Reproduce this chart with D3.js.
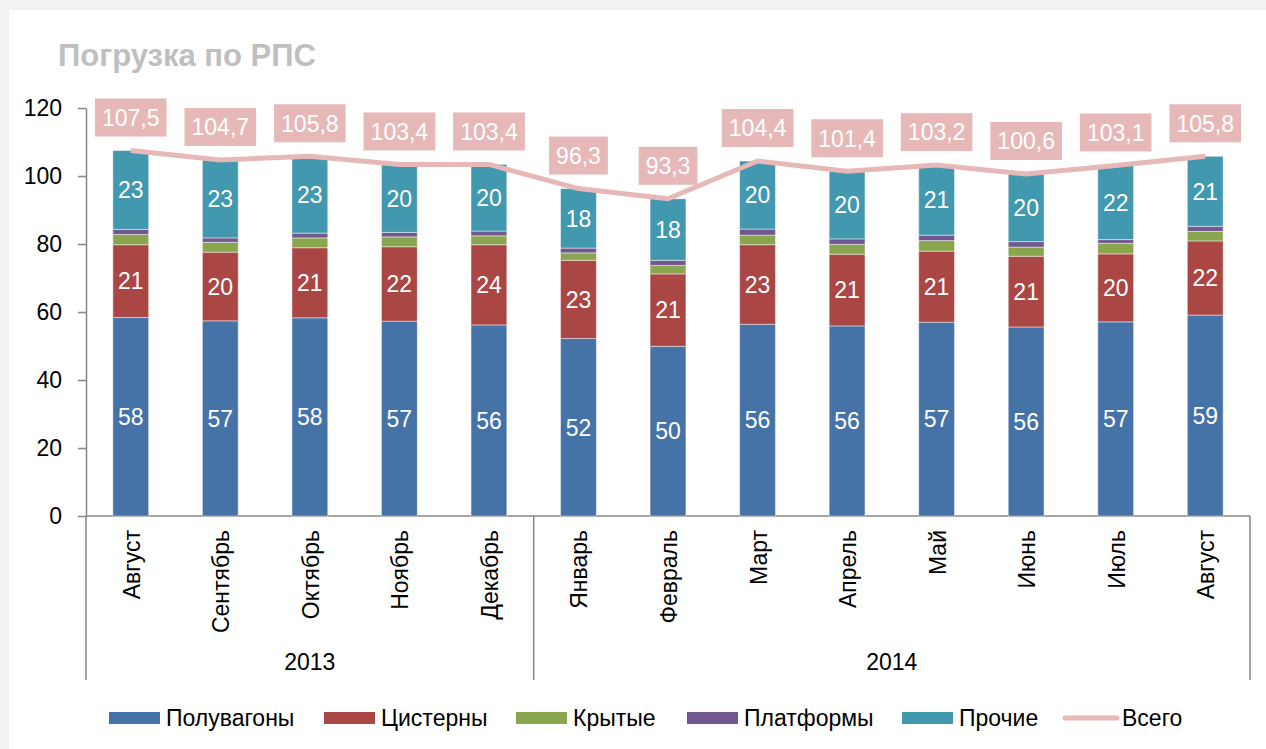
<!DOCTYPE html>
<html>
<head>
<meta charset="utf-8">
<script src="https://cdn.jsdelivr.net/npm/d3@7"></script>
<style>
  body { margin: 0; background: #f2f2f2; }
  svg text { font-family: "Liberation Sans Narrow", "Arial Narrow", "Liberation Sans", sans-serif; }
</style>
</head>
<body>
<div id="chart"></div>
<script>
//////////////////////////////////////////////////////////////
//////////////////////////// Data ////////////////////////////
//////////////////////////////////////////////////////////////

const months = ["Август","Сентябрь","Октябрь","Ноябрь","Декабрь","Январь","Февраль","Март","Апрель","Май","Июнь","Июль","Август"]
const years = [{label: "2013", from: 0, to: 5}, {label: "2014", from: 5, to: 13}]

const poluvagony = [58.4, 57.4, 58.3, 57.3, 56.2, 52.2, 49.9, 56.4, 55.9, 57.0, 55.6, 57.1, 59.1]
const cisterny   = [21.4, 20.2, 20.6, 21.9, 23.6, 23.0, 21.3, 23.4, 21.1, 20.9, 20.8, 20.0, 21.8]
const krytye     = [3.0, 2.9, 2.9, 2.9, 2.6, 2.2, 2.5, 2.8, 2.9, 3.1, 2.7, 3.1, 2.8]
const platformy  = [1.5, 1.3, 1.4, 1.3, 1.4, 1.4, 1.5, 1.8, 1.6, 1.6, 1.6, 1.1, 1.5]
const prochie    = [23.2, 22.9, 22.6, 20.0, 19.6, 17.5, 18.1, 20.0, 19.9, 20.6, 19.9, 21.8, 20.6]
const vsego      = [107.5, 104.7, 105.8, 103.4, 103.4, 96.3, 93.3, 104.4, 101.4, 103.2, 100.6, 103.1, 105.8]

const yTicks = [0, 20, 40, 60, 80, 100, 120]

const series = [
    {name: "Полувагоны", values: poluvagony, color: "#4572a7", label: true},
    {name: "Цистерны",   values: cisterny,   color: "#aa4643", label: true},
    {name: "Крытые",     values: krytye,     color: "#89a54e", label: false},
    {name: "Платформы",  values: platformy,  color: "#71588f", label: false},
    {name: "Прочие",     values: prochie,    color: "#4198af", label: true}
]
const lineColor = "#e6b9b8"

//////////////////////////////////////////////////////////////
///////////////////////// Create SVG /////////////////////////
//////////////////////////////////////////////////////////////

const W = 1266, H = 749
const plot = {left: 86, right: 1250, top: 108, bottom: 516}

const svg = d3.select("#chart")
    .append("svg")
    .attr("width", W)
    .attr("height", H)

//White panel
svg.append("rect")
    .attr("x", 9).attr("y", 10)
    .attr("width", W - 9).attr("height", H - 10)
    .style("fill", "white")

svg.append("text")
    .attr("x", 58).attr("y", 66)
    .style("font-size", "31px")
    .style("font-weight", "bold")
    .style("fill", "#bfbfbf")
    .text("Погрузка по РПС")

//////////////////////////////////////////////////////////////
/////////////////////////// Scales ///////////////////////////
//////////////////////////////////////////////////////////////

const xScale = d3.scaleBand()
    .domain(d3.range(months.length))
    .range([plot.left, plot.right])
    .paddingInner(0.6)
    .paddingOuter(0.3)

const step = xScale.step()
const xCenter = i => xScale(i) + xScale.bandwidth() / 2

const yScale = d3.scaleLinear()
    .domain([0, 120])
    .range([plot.bottom, plot.top])

//////////////////////////////////////////////////////////////
//////////////////////////// Axes ////////////////////////////
//////////////////////////////////////////////////////////////

const yAxis = svg.append("g")
    .attr("transform", "translate(" + plot.left + ",0)")
    .call(d3.axisLeft(yScale).tickValues(yTicks).tickSize(8).tickSizeOuter(0).tickPadding(16))
yAxis.select(".domain").attr("stroke", "#868686").attr("stroke-width", 1.5)
yAxis.selectAll(".tick line").attr("stroke", "#868686").attr("stroke-width", 1.5)
yAxis.selectAll(".tick text")
    .style("font-size", "23px")
    .style("fill", "#000")
    .style("font-family", "'Liberation Sans Narrow', 'Arial Narrow', sans-serif")

//Baseline
svg.append("line")
    .attr("x1", plot.left).attr("x2", plot.right)
    .attr("y1", yScale(0)).attr("y2", yScale(0))
    .attr("stroke", "#868686").attr("stroke-width", 1.5)

//Year separators
const sepX = [0].concat(years.map(d => d.to))
svg.selectAll(".sep")
    .data(sepX)
    .enter().append("line")
    .attr("class", "sep")
    .attr("x1", d => plot.left + d * step)
    .attr("x2", d => plot.left + d * step)
    .attr("y1", yScale(0))
    .attr("y2", 680)
    .attr("stroke", "#868686").attr("stroke-width", 1.5)

//Month labels
svg.selectAll(".month")
    .data(months)
    .enter().append("text")
    .attr("class", "month")
    .attr("transform", (d, i) => "translate(" + (xCenter(i) + 9) + ",530) rotate(-90)")
    .attr("text-anchor", "end")
    .style("font-size", "23px")
    .text(d => d)

//Year labels
svg.selectAll(".year")
    .data(years)
    .enter().append("text")
    .attr("class", "year")
    .attr("x", d => plot.left + (d.from + d.to) / 2 * step)
    .attr("y", 670)
    .attr("text-anchor", "middle")
    .style("font-size", "23px")
    .text(d => d.label)

//////////////////////////////////////////////////////////////
//////////////////////////// Bars ////////////////////////////
//////////////////////////////////////////////////////////////

const stackData = months.map((m, i) => {
    const row = {i: i}
    series.forEach(s => row[s.name] = s.values[i])
    return row
})
const stacked = d3.stack().keys(series.map(s => s.name))(stackData)

const layers = svg.selectAll(".layer")
    .data(stacked)
    .enter().append("g")
    .attr("class", "layer")
    .style("fill", (d, k) => series[k].color)

layers.selectAll("rect")
    .data(d => d)
    .enter().append("rect")
    .attr("x", d => xScale(d.data.i))
    .attr("width", xScale.bandwidth())
    .attr("y", d => yScale(d[1]))
    .attr("height", d => yScale(d[0]) - yScale(d[1]))
    .attr("stroke", "rgba(255,255,255,0.45)")
    .attr("stroke-width", 1)

//Segment value labels
stacked.forEach((layer, k) => {
    if (!series[k].label) return
    svg.append("g").selectAll("text")
        .data(layer)
        .enter().append("text")
        .attr("x", d => xCenter(d.data.i))
        .attr("y", d => yScale((d[0] + d[1]) / 2))
        .attr("dy", "0.36em")
        .attr("text-anchor", "middle")
        .style("font-size", "23px")
        .style("fill", "white")
        .text(d => Math.round(d[1] - d[0]))
})

//////////////////////////////////////////////////////////////
//////////////////////////// Line ////////////////////////////
//////////////////////////////////////////////////////////////

const line = d3.line()
    .x((d, i) => xCenter(i))
    .y(d => yScale(d))

svg.append("path")
    .datum(vsego)
    .attr("d", line)
    .style("fill", "none")
    .style("stroke", lineColor)
    .style("stroke-width", 5)

//Total labels in pink boxes
const fmt = v => v.toFixed(1).replace(".", ",")
const totals = svg.append("g").selectAll("g")
    .data(vsego)
    .enter().append("g")
    .attr("transform", (d, i) => "translate(" + xCenter(i) + "," + (yScale(d) - 33) + ")")

totals.append("rect")
totals.append("text")
    .attr("text-anchor", "middle")
    .attr("dy", "0.36em")
    .style("font-size", "23px")
    .style("fill", "white")
    .text(d => fmt(d))

totals.each(function() {
    const g = d3.select(this)
    const bb = g.select("text").node().getBBox()
    g.select("rect")
        .attr("x", bb.x - 7)
        .attr("y", -19)
        .attr("width", bb.width + 14)
        .attr("height", 38)
        .style("fill", lineColor)
})

//////////////////////////////////////////////////////////////
/////////////////////////// Legend ///////////////////////////
//////////////////////////////////////////////////////////////

const legendX = [109, 324, 516, 687, 902, 1065]
const legendItems = series.map(s => ({name: s.name, color: s.color, type: "rect"}))
    .concat([{name: "Всего", color: lineColor, type: "line"}])

const legend = svg.selectAll(".legend")
    .data(legendItems)
    .enter().append("g")
    .attr("class", "legend")
    .attr("transform", (d, i) => "translate(" + legendX[i] + ",718)")

legend.filter(d => d.type === "rect").append("rect")
    .attr("x", 0).attr("y", -6)
    .attr("width", 51).attr("height", 12)
    .style("fill", d => d.color)

legend.filter(d => d.type === "line").append("line")
    .attr("x1", 0).attr("x2", 52)
    .attr("y1", 0).attr("y2", 0)
    .style("stroke", d => d.color)
    .style("stroke-width", 5)
    .style("stroke-linecap", "round")

legend.append("text")
    .attr("x", 57)
    .attr("dy", "0.36em")
    .style("font-size", "23px")
    .text(d => d.name)
</script>
</body>
</html>
